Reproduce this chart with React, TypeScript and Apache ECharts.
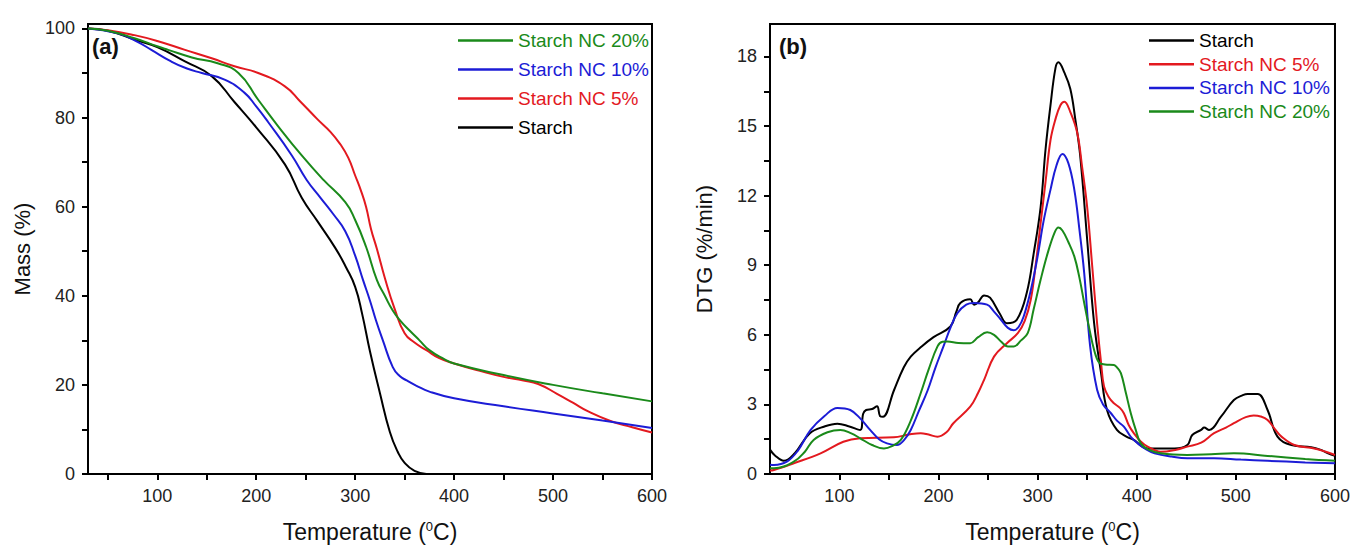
import React, { useEffect, useRef } from "react";
import * as echarts from "echarts";

// ---- Data ----
// (a) TGA: [temperature °C, mass %]
const tgaStarch = [[30,100],[50,99.5],[77,97.5],[100,95.8],[128,92.6],[155,89.3],[178,83.5],[200,77.8],[229,69.5],[246,62],[262,56.7],[280,50.7],[291,46.3],[300,42],[307,36],[315,27.5],[325,18.2],[335,9.5],[343,5],[350,2.5],[360,0.7],[372,0]];
const tgaNC5 = [[30,100],[50,99.6],[77,98.5],[100,97.2],[128,95.2],[155,93.3],[178,91.5],[202,90],[229,87],[245,83.5],[262,79.6],[275,76.8],[285,74],[293,71],[300,67],[306,63.5],[311,60],[316,55],[322,50.5],[330,44],[340,37],[350,31.6],[360,29.5],[372,27.8],[385,26],[400,24.8],[425,23.2],[450,21.8],[470,21],[485,20.2],[504,18],[520,16],[535,14.1],[558,11.9],[580,10.5],[600,9.3]];
const tgaNC10 = [[30,100],[60,98.9],[80,97],[94,95.2],[114,92.6],[130,91],[145,90],[168,88.5],[188,85.6],[200,82.5],[212,79],[236,71.5],[251,66],[265,62],[278,58.3],[290,54.5],[300,49],[308,43.5],[315,38.9],[321,34.5],[328,30],[338,24],[345,22],[352,21],[362,19.8],[375,18.5],[400,17],[450,15.2],[500,13.6],[550,12],[600,10.3]];
const tgaNC20 = [[30,100],[50,99.5],[77,97.8],[100,96],[111,95.2],[135,93.5],[161,92.2],[182,90],[202,84],[222,78.1],[246,71.5],[268,66],[290,61],[300,57],[311,51],[322,43.5],[330,40],[338,36.7],[346,34.3],[355,32.2],[365,30],[375,27.8],[390,25.8],[400,24.8],[450,22.2],[500,20],[550,18.1],[600,16.3]];

// (b) DTG: [temperature °C, %/min]
const dtgStarch = [[30,1.05],[35,0.8],[44,0.57],[55,0.9],[70,1.75],[85,2.05],[98,2.17],[110,2.05],[121,1.9],[124,2.6],[127,2.76],[133,2.8],[138,2.92],[141,2.5],[144,2.47],[155,3.6],[165,4.6],[172,5.06],[183,5.5],[195,5.9],[212,6.36],[218,7.0],[222,7.37],[232,7.53],[236,7.3],[240,7.4],[246,7.7],[252,7.6],[262,6.9],[269,6.5],[279,6.65],[289,7.8],[296,9.5],[303,11.5],[308,14],[313,15.9],[318,17.5],[321,17.75],[327,17.3],[333,16.6],[338,15.3],[343,13.7],[350,10.1],[357,6.5],[364,4.35],[370,2.76],[380,1.9],[390,1.6],[397,1.47],[405,1.2],[411,1.1],[438,1.1],[451,1.25],[456,1.68],[465,1.9],[468,2.0],[473,1.9],[485,2.47],[498,3.19],[507,3.4],[512,3.45],[522,3.45],[532,2.76],[542,1.61],[556,1.25],[576,1.15],[585,1.05],[593,0.89],[600,0.78]];
const dtgNC5 = [[30,0.15],[34,0.17],[54,0.46],[81,0.89],[104,1.39],[121,1.54],[155,1.58],[170,1.7],[182,1.76],[190,1.7],[199,1.61],[208,1.8],[215,2.19],[232,2.9],[240,3.5],[246,4.06],[256,5.06],[269,5.64],[280,6.07],[287,6.6],[293,7.5],[298,9],[303,10.8],[308,12.6],[313,14.4],[318,15.3],[323,15.9],[327,16.05],[333,15.6],[340,14.7],[345,13.2],[350,11.5],[355,9],[360,6.5],[364,4.8],[367,3.77],[372,3.3],[377,3.05],[383,2.85],[387,2.62],[392,2.1],[397,1.76],[404,1.4],[411,1.18],[424,0.96],[440,1.05],[451,1.18],[465,1.35],[478,1.76],[490,2.0],[498,2.19],[510,2.45],[518,2.52],[525,2.48],[532,2.33],[540,1.9],[546,1.61],[559,1.25],[579,1.1],[590,0.97],[600,0.82]];
const dtgNC10 = [[30,0.4],[34,0.39],[47,0.53],[58,1.0],[71,1.9],[85,2.5],[98,2.85],[111,2.76],[121,2.4],[131,1.9],[140,1.5],[148,1.32],[158,1.25],[165,1.45],[172,1.9],[180,2.7],[189,3.6],[197,4.6],[205,5.5],[212,6.3],[219,6.93],[228,7.3],[236,7.37],[249,7.3],[256,7.0],[263,6.65],[270,6.3],[276,6.2],[281,6.35],[286,6.8],[293,7.9],[300,9.38],[306,10.9],[313,12.26],[319,13.3],[325,13.8],[331,13.4],[337,12.26],[342,10.6],[347,8.66],[353,5.5],[360,3.63],[366,3.0],[374,2.62],[380,2.3],[387,2.04],[394,1.6],[401,1.32],[410,1.05],[418,0.89],[435,0.75],[451,0.68],[478,0.68],[505,0.62],[532,0.57],[570,0.5],[600,0.46]];
const dtgNC20 = [[30,0.25],[34,0.25],[54,0.53],[65,0.95],[74,1.47],[88,1.8],[101,1.9],[112,1.75],[121,1.54],[133,1.25],[145,1.1],[153,1.2],[162,1.47],[172,2.3],[182,3.48],[190,4.5],[199,5.5],[204,5.7],[209,5.71],[220,5.65],[232,5.64],[240,5.9],[249,6.11],[256,6.0],[263,5.71],[270,5.5],[276,5.5],[283,5.75],[290,6.07],[296,7.1],[303,8.37],[310,9.5],[317,10.4],[321,10.63],[325,10.5],[331,10.0],[337,9.38],[342,8.5],[347,7.37],[352,6.3],[357,5.35],[362,4.8],[368,4.72],[377,4.7],[380,4.6],[384,4.35],[389,3.5],[394,2.62],[399,1.9],[404,1.32],[412,1.05],[424,0.89],[451,0.82],[475,0.85],[498,0.89],[532,0.78],[570,0.65],[600,0.57]];

// ---- Ticks / labels ----
const xTicks = [50,100,150,200,250,300,350,400,450,500,550,600];
const xLabels = [100,200,300,400,500,600];
const massTicks = [0,10,20,30,40,50,60,70,80,90,100];
const massLabels = [0,20,40,60,80,100];
const dtgTicks = [0,1.5,3,4.5,6,7.5,9,10.5,12,13.5,15,16.5,18];
const dtgLabels = [0,3,6,9,12,15,18];

const NAMES = ["Starch", "Starch NC 5%", "Starch NC 10%", "Starch NC 20%"];
const COLORS: Record<string, string> = {
  "Starch": "#000000",
  "Starch NC 5%": "#e3191f",
  "Starch NC 10%": "#1c1cd6",
  "Starch NC 20%": "#1a8a1a",
};
const FONT = "'Liberation Sans', Arial, sans-serif";

export default function App() {
  const ref = useRef<HTMLDivElement>(null);
  useEffect(() => {
    if (!ref.current) return;
    const chart = echarts.init(ref.current, undefined, { renderer: "svg" });

    const axisLine = { show: true, onZero: false, lineStyle: { color: "#000", width: 2 } };
    const tickStyle = (vals: number[]) => ({
      show: true, inside: false, length: 6, customValues: vals,
      lineStyle: { color: "#000", width: 2 },
    });
    const labelStyle = (vals: number[]) => ({
      customValues: vals, fontSize: 18, color: "#222", fontFamily: FONT, margin: 13,
    });
    const xName = {
      name: "Temperature ({sup|0}C)",
      nameLocation: "middle" as const,
      nameGap: 46,
      nameTextStyle: {
        fontSize: 23, color: "#111", fontFamily: FONT,
        rich: { sup: { fontSize: 13, verticalAlign: "top" as const, color: "#111", fontFamily: FONT } },
      },
    };

    const mkXAxis = (gi: number) => ({
      type: "value", gridIndex: gi, min: 30, max: 600, ...xName,
      axisLine, axisTick: tickStyle(xTicks), axisLabel: labelStyle(xLabels),
      splitLine: { show: false },
    });

    const tgaSets: Record<string, number[][]> = {
      "Starch": tgaStarch, "Starch NC 5%": tgaNC5, "Starch NC 10%": tgaNC10, "Starch NC 20%": tgaNC20,
    };
    const dtgSets: Record<string, number[][]> = {
      "Starch": dtgStarch, "Starch NC 5%": dtgNC5, "Starch NC 10%": dtgNC10, "Starch NC 20%": dtgNC20,
    };

    const series: any[] = [];
    NAMES.forEach((n) => {
      series.push({
        name: n, type: "line", xAxisIndex: 0, yAxisIndex: 0, data: tgaSets[n],
        showSymbol: false, smooth: 0.5,
        lineStyle: { color: COLORS[n], width: 2 }, itemStyle: { color: COLORS[n] },
      });
    });
    NAMES.forEach((n) => {
      series.push({
        name: n, type: "line", xAxisIndex: 1, yAxisIndex: 1, data: dtgSets[n],
        showSymbol: false, smooth: 0.4,
        lineStyle: { color: COLORS[n], width: 2 }, itemStyle: { color: COLORS[n] },
      });
    });

    const legendItem = (n: string) => ({ name: n, textStyle: { color: COLORS[n] } });

    chart.setOption({
      animation: false,
      backgroundColor: "#fff",
      grid: [
        { left: 88, top: 24, width: 564, height: 451, show: true, borderColor: "#000", borderWidth: 2, backgroundColor: "transparent" },
        { left: 770, top: 24, width: 566, height: 450, show: true, borderColor: "#000", borderWidth: 2, backgroundColor: "transparent" },
      ],
      xAxis: [mkXAxis(0), mkXAxis(1)],
      yAxis: [
        {
          type: "value", gridIndex: 0, min: 0, max: 101,
          name: "Mass (%)", nameLocation: "middle", nameGap: 55,
          nameTextStyle: { fontSize: 22, color: "#111", fontFamily: FONT },
          axisLine, axisTick: tickStyle(massTicks), axisLabel: labelStyle(massLabels),
          splitLine: { show: false },
        },
        {
          type: "value", gridIndex: 1, min: 0, max: 19.4,
          name: "DTG (%/min)", nameLocation: "middle", nameGap: 55,
          nameTextStyle: { fontSize: 22, color: "#111", fontFamily: FONT },
          axisLine, axisTick: tickStyle(dtgTicks), axisLabel: labelStyle(dtgLabels),
          splitLine: { show: false },
        },
      ],
      legend: [
        {
          orient: "vertical", left: 453, top: 26, itemWidth: 55, itemHeight: 2.5, itemGap: 10,
          icon: "rect", selectedMode: false,
          textStyle: { fontSize: 19, fontFamily: FONT },
          data: ["Starch NC 20%", "Starch NC 10%", "Starch NC 5%", "Starch"].map(legendItem),
        },
        {
          orient: "vertical", left: 1144, top: 26, itemWidth: 45, itemHeight: 2.5, itemGap: 4.7,
          icon: "rect", selectedMode: false,
          textStyle: { fontSize: 19, fontFamily: FONT },
          data: ["Starch", "Starch NC 5%", "Starch NC 10%", "Starch NC 20%"].map(legendItem),
        },
      ],
      graphic: [
        { type: "text", left: 92, top: 35, style: { text: "(a)", fontSize: 22, fontWeight: "bold", fill: "#111", fontFamily: FONT } },
        { type: "text", left: 779, top: 35, style: { text: "(b)", fontSize: 22, fontWeight: "bold", fill: "#111", fontFamily: FONT } },
      ],
      series,
    });

    return () => chart.dispose();
  }, []);

  return (
    <div
      ref={ref}
      style={{ position: "fixed", left: 0, top: 0, width: 1353, height: 548, background: "#fff" }}
    />
  );
}
